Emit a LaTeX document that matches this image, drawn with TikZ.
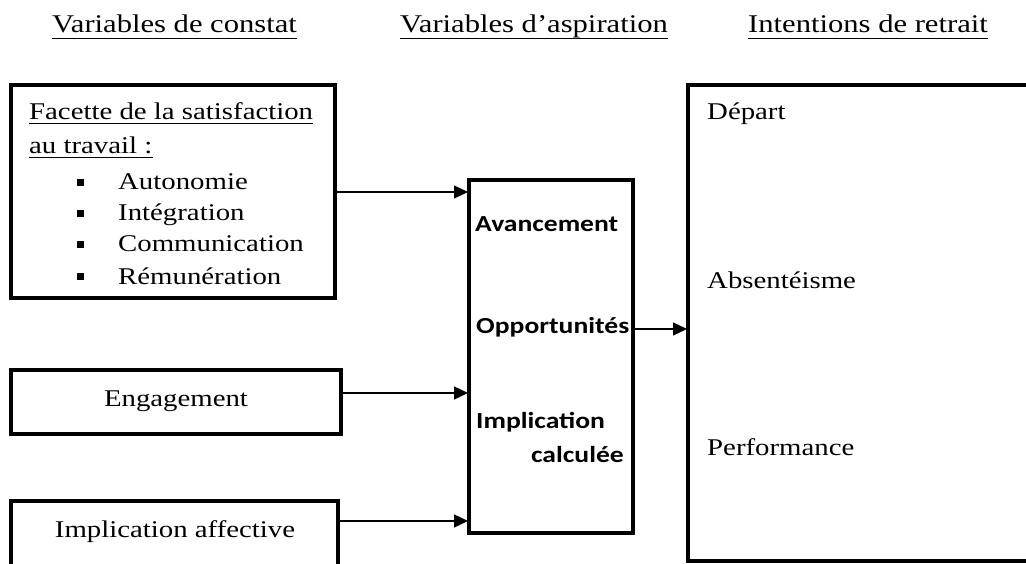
\documentclass[tikz,border=0pt]{standalone}
\usepackage{fontspec}
\setmainfont{Liberation Serif}
\newfontfamily\boldsans{Carlito}
\usetikzlibrary{arrows.meta}
\newcommand{\hs}[1]{\scalebox{1.2}[1]{#1}}
\tikzset{
  txt/.style={anchor=base west, inner sep=0pt, font=\fontsize{24}{28}\selectfont},
  head/.style={anchor=base west, inner sep=0pt, font=\fontsize{25.5}{30}\selectfont},
  mid/.style={anchor=base west, inner sep=0pt, font=\boldsans\bfseries\fontsize{23}{27}\selectfont},
  boxline/.style={line width=4pt, line join=miter},
  uline/.style={line width=1.6pt},
  conn/.style={line width=1.3pt, -{Triangle[length=14pt,width=13pt]}, shorten >=-1pt},
}
\begin{document}
\begin{tikzpicture}[x=1pt,y=-1pt]
\useasboundingbox (0,0) rectangle (1026,564);
\clip (0,0) rectangle (1026,564);
\fill[white] (0,0) rectangle (1026,564);

% headers
\node[head] (h1) at (52,33) {\hs{Variables de constat}};
\node[head] (h2) at (400,33) {\hs{Variables d’aspiration}};
\node[head] (h3) at (748,33) {\hs{Intentions de retrait}};
\foreach \h in {h1,h2,h3}
  \draw[uline] ([yshift=-5.5pt]\h.base west) -- ([yshift=-5.5pt]\h.base east);

% left boxes
\draw[boxline] (11,85) rectangle (335,298);
\coordinate (b1e) at (337,192);
\node[txt] (f1) at (29,120) {\hs{Facette de la satisfaction}};
\node[txt] (f2) at (29,154) {\hs{au travail :}};
\foreach \f in {f1,f2}
  \draw[line width=1.2pt] ([yshift=-3.5pt]\f.base west) -- ([yshift=-3.5pt]\f.base east);
\node[txt] (i1) at (118,190) {\hs{Autonomie}};
\node[txt] (i2) at (118,221) {\hs{Intégration}};
\node[txt] (i3) at (118,252) {\hs{Communication}};
\node[txt] (i4) at (118,284) {\hs{Rémunération}};
\foreach \y in {190,221,252,284}
  \fill (77,\y-11) rectangle (84,\y-4);

\draw[boxline] (11,370) rectangle (341,434);
\coordinate (b2e) at (343,393);
\node[anchor=base, inner sep=0pt, font=\fontsize{24}{28}\selectfont] (eng) at (176,406) {\hs{Engagement}};

\draw[boxline] (11,501) rectangle (338,600);
\coordinate (b3e) at (340,521);
\node[anchor=base, inner sep=0pt, font=\fontsize{24}{28}\selectfont] (impa) at (175,537) {\hs{Implication affective}};

% middle box
\draw[boxline] (469,180) rectangle (633,533);
\coordinate (m1) at (467,192);
\coordinate (m2) at (467,393);
\coordinate (m3) at (467,521);
\coordinate (mout) at (635,329);
\node[mid] (av) at (475,232) {\hs{Avancement}};
\node[mid] (op) at (476,333) {\hs{Opportunités}};
\node[mid] (im) at (476,428) {\hs{Implication}};
\node[mid, anchor=base east] (ca) at (624,462) {\hs{calculée}};

% right box
\draw[boxline] (688,85) rectangle (1050,561);
\coordinate (rin) at (686,329);
\node[txt] (dep) at (707,120) {\hs{Départ}};
\node[txt] (abs) at (707,289) {\hs{Absentéisme}};
\node[txt] (perf) at (707,455) {\hs{Performance}};

% connectors
\draw[conn] (b1e) -- (m1);
\draw[conn] (b2e) -- (m2);
\draw[conn] (b3e) -- (m3);
\draw[conn] (mout) -- (rin);
\end{tikzpicture}
\end{document}
